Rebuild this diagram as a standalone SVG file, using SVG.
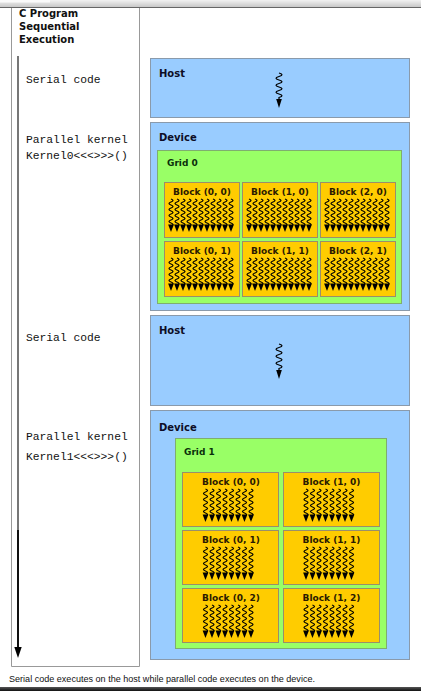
<svg xmlns="http://www.w3.org/2000/svg" xmlns:xlink="http://www.w3.org/1999/xlink" width="421" height="691" viewBox="0 0 421 691">
<style>
.title{font-family:"DejaVu Sans",sans-serif;font-weight:bold;font-size:10px;fill:#111}
.mono{font-family:"Liberation Mono",monospace;font-size:11.3px;fill:#111}
.panel{font-family:"DejaVu Sans",sans-serif;font-weight:bold;font-size:10px;fill:#0d0d26}
.gridt{font-family:"DejaVu Sans",sans-serif;font-weight:bold;font-size:9px;fill:#0a300a}
.blkt{font-family:"DejaVu Sans",sans-serif;font-weight:bold;font-size:9px;fill:#2a1a00;text-anchor:middle}
.cap{font-family:"Liberation Sans",sans-serif;font-size:9px;fill:#111}
.host{fill:#99ccff;stroke:#8a9aab;stroke-width:1}
.grid{fill:#99ff66;stroke:#7fae6e;stroke-width:1}
.blk{fill:#ffcc00;stroke:#9a8f6a;stroke-width:1}
.wave{fill:none;stroke:#000;stroke-width:1.25}
</style>
<defs>
<linearGradient id="topg" x1="0" y1="0" x2="0" y2="1">
<stop offset="0" stop-color="#f2f2f2"/><stop offset="1" stop-color="#c8c8c8"/>
</linearGradient>
<linearGradient id="botg" x1="0" y1="0" x2="0" y2="1">
<stop offset="0" stop-color="#555"/><stop offset="1" stop-color="#111"/>
</linearGradient>
<g id="th">
<path class="wave" d="M0,0 q4,1.5 0,3 t0,3 t0,3 t0,3 t0,3 t0,3 t0,3 t0,3 t0,3"/>
<path d="M-2.9,25.5 L2.9,25.5 L0,33 Z" fill="#000"/>
</g>
<g id="hth">
<path class="wave" d="M0,0 q6,1.75 0,3.5 t0,3.5 t0,3.5 t0,3.5 t0,3.5 t0,3.5 t0,3.5 L0,27"/>
<path d="M-2.8,26 L2.8,26 L0,35 Z" fill="#000"/>
</g>
<g id="row11">
<use xlink:href="#th" x="0"/><use xlink:href="#th" x="6"/><use xlink:href="#th" x="12"/><use xlink:href="#th" x="18"/>
<use xlink:href="#th" x="24"/><use xlink:href="#th" x="30"/><use xlink:href="#th" x="36"/><use xlink:href="#th" x="42"/>
<use xlink:href="#th" x="48"/><use xlink:href="#th" x="54"/><use xlink:href="#th" x="60"/>
</g>
<g id="row8">
<use xlink:href="#th" x="0"/><use xlink:href="#th" x="6.5"/><use xlink:href="#th" x="13"/><use xlink:href="#th" x="19.5"/>
<use xlink:href="#th" x="26"/><use xlink:href="#th" x="32.5"/><use xlink:href="#th" x="39"/><use xlink:href="#th" x="45.5"/>
</g>
</defs>
<rect width="421" height="691" fill="#fff"/>
<g id="chrome">
<rect x="0" y="0" width="421" height="7" fill="url(#topg)"/>
<rect x="0" y="0" width="50" height="2.5" fill="#fafafa"/>
<line x1="0" y1="7.5" x2="421" y2="7.5" stroke="#666" stroke-width="1"/>
<rect x="0" y="687" width="421" height="4" fill="url(#botg)"/>
</g>
<g id="column">
<path d="M11.5,8 V666.5 H139.5 V8" fill="none" stroke="#999" stroke-width="1"/>
<text class="title" x="19" y="17">C Program</text>
<text class="title" x="19" y="30">Sequential</text>
<text class="title" x="19" y="43">Execution</text>
<text class="mono" x="26" y="83">Serial code</text>
<text class="mono" x="26" y="142.5">Parallel kernel</text>
<text class="mono" x="26" y="159">Kernel0&lt;&lt;&lt;&gt;&gt;&gt;()</text>
<text class="mono" x="26" y="341">Serial code</text>
<text class="mono" x="26" y="440">Parallel kernel</text>
<text class="mono" x="26" y="460">Kernel1&lt;&lt;&lt;&gt;&gt;&gt;()</text>
</g>
<g id="connectors">
<line x1="18" y1="56" x2="18" y2="530" stroke="#777" stroke-width="2"/>
<line x1="18" y1="530" x2="18" y2="650" stroke="#111" stroke-width="2"/>
<path d="M14.3,647 L21.7,647 L18,658 Z" fill="#000"/>
</g>
<g id="host1">
<rect class="host" x="150.5" y="58.5" width="259" height="59"/>
<text class="panel" x="159" y="77">Host</text>
<use xlink:href="#hth" x="279" y="73"/>
</g>
<g id="device1">
<rect class="host" x="150.5" y="122.5" width="259" height="188"/>
<text class="panel" x="159" y="141">Device</text>
</g>
<g id="grid0">
<rect class="grid" x="157.5" y="150.5" width="244" height="153"/>
<text class="gridt" x="167" y="165.5">Grid 0</text>
</g>
<g id="g0b00"><rect class="blk" x="164.5" y="182.5" width="75" height="55"/><text class="blkt" x="202" y="195">Block (0, 0)</text><use xlink:href="#row11" x="171" y="199"/></g>
<g id="g0b10"><rect class="blk" x="242.5" y="182.5" width="75" height="55"/><text class="blkt" x="280" y="195">Block (1, 0)</text><use xlink:href="#row11" x="249" y="199"/></g>
<g id="g0b20"><rect class="blk" x="320.5" y="182.5" width="75" height="55"/><text class="blkt" x="358" y="195">Block (2, 0)</text><use xlink:href="#row11" x="327" y="199"/></g>
<g id="g0b01"><rect class="blk" x="164.5" y="241.5" width="75" height="55"/><text class="blkt" x="202" y="254">Block (0, 1)</text><use xlink:href="#row11" x="171" y="258"/></g>
<g id="g0b11"><rect class="blk" x="242.5" y="241.5" width="75" height="55"/><text class="blkt" x="280" y="254">Block (1, 1)</text><use xlink:href="#row11" x="249" y="258"/></g>
<g id="g0b21"><rect class="blk" x="320.5" y="241.5" width="75" height="55"/><text class="blkt" x="358" y="254">Block (2, 1)</text><use xlink:href="#row11" x="327" y="258"/></g>
<g id="host2">
<rect class="host" x="150.5" y="315.5" width="259" height="90"/>
<text class="panel" x="159" y="334">Host</text>
<use xlink:href="#hth" x="279" y="344"/>
</g>
<g id="device2">
<rect class="host" x="150.5" y="410.5" width="259" height="249"/>
<text class="panel" x="159" y="430.5">Device</text>
</g>
<g id="grid1">
<rect class="grid" x="175.5" y="438.5" width="211" height="210"/>
<text class="gridt" x="184" y="454.5">Grid 1</text>
</g>
<g id="g1b00"><rect class="blk" x="182.5" y="472.5" width="96" height="54"/><text class="blkt" x="231" y="485">Block (0, 0)</text><use xlink:href="#row8" x="205.5" y="489"/></g>
<g id="g1b10"><rect class="blk" x="283.5" y="472.5" width="96" height="54"/><text class="blkt" x="331.5" y="485">Block (1, 0)</text><use xlink:href="#row8" x="306" y="489"/></g>
<g id="g1b01"><rect class="blk" x="182.5" y="530.5" width="96" height="54"/><text class="blkt" x="231" y="543">Block (0, 1)</text><use xlink:href="#row8" x="205.5" y="547"/></g>
<g id="g1b11"><rect class="blk" x="283.5" y="530.5" width="96" height="54"/><text class="blkt" x="331.5" y="543">Block (1, 1)</text><use xlink:href="#row8" x="306" y="547"/></g>
<g id="g1b02"><rect class="blk" x="182.5" y="588.5" width="96" height="54"/><text class="blkt" x="231" y="601">Block (0, 2)</text><use xlink:href="#row8" x="205.5" y="605"/></g>
<g id="g1b12"><rect class="blk" x="283.5" y="588.5" width="96" height="54"/><text class="blkt" x="331.5" y="601">Block (1, 2)</text><use xlink:href="#row8" x="306" y="605"/></g>
<g id="caption">
<text class="cap" x="9" y="682" textLength="306" lengthAdjust="spacingAndGlyphs">Serial code executes on the host while parallel code executes on the device.</text>
</g>
</svg>
